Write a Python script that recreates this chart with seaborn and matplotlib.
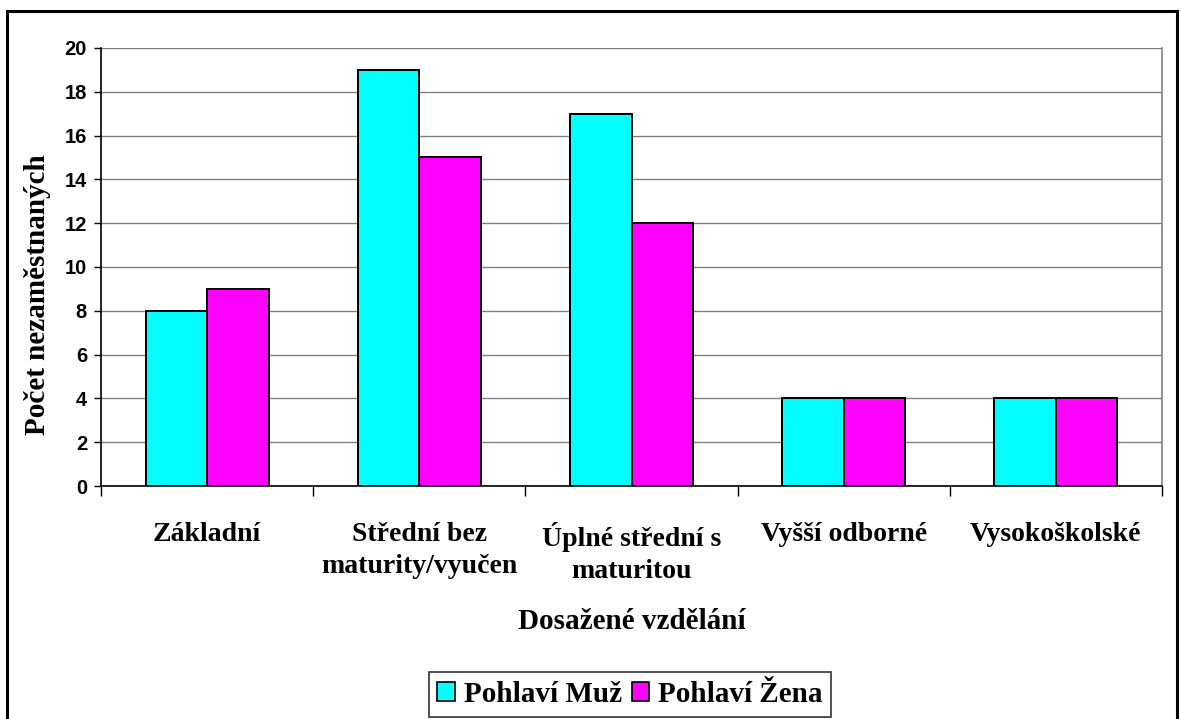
import numpy as np
import pandas as pd
import matplotlib
matplotlib.use("Agg")
import matplotlib.pyplot as plt
from matplotlib.patches import Rectangle
from matplotlib.ticker import FixedLocator
import seaborn as sns

# ─── Data ────────────────────────────────────────────────────────────────────
categories = ["Základní", "Střední bez\nmaturity/vyučen", "Úplné střední s\nmaturitou",
              "Vyšší odborné", "Vysokoškolské"]
muz = [8, 19, 17, 4, 4]
zena = [9, 15, 12, 4, 4]
series = ["Pohlaví Muž", "Pohlaví Žena"]
colors = ["#00FFFF", "#FF00FF"]

df = pd.DataFrame({
    "vzdelani": categories * 2,
    "pocet": muz + zena,
    "pohlavi": [series[0]] * len(categories) + [series[1]] * len(categories),
})

sns.set_style("white", rc={"text.color": "black", "axes.labelcolor": "black",
                           "xtick.color": "black", "ytick.color": "black"})
serif = ["Liberation Serif", "DejaVu Serif"]
sans = ["Liberation Sans", "DejaVu Sans"]

W, H = 1181, 719
fig = plt.figure(figsize=(W / 100, H / 100), dpi=100)
left, right, top, bottom = 101, 1162, 48, 486
ax = fig.add_axes([left / W, (H - bottom) / H, (right - left) / W, (bottom - top) / H])

sns.barplot(data=df, x="vzdelani", y="pocet", hue="pohlavi", palette=colors,
            saturation=1, width=0.58, edgecolor="black", linewidth=1.4, ax=ax, zorder=3)

ax.set_ylim(0, 20)
ax.set_xlim(-0.5, len(categories) - 0.5)
ax.set_yticks(np.arange(0, 21, 2))
ax.yaxis.grid(True, color="#808080", linewidth=1.0, zorder=0)
ax.xaxis.grid(False)

for lbl in ax.get_yticklabels():
    lbl.set_fontfamily(sans)
    lbl.set_fontweight("bold")
    lbl.set_fontsize(14.5)
ax.tick_params(axis="y", length=5, width=1, color="black", left=True, pad=5)

ax.set_xticks(range(len(categories)))
ax.set_xticklabels(categories, fontfamily=serif, fontweight="bold", fontsize=20,
                   linespacing=1.35, va="top")
ax.tick_params(axis="x", which="major", length=0, pad=26)
ax.xaxis.set_minor_locator(FixedLocator(np.arange(-0.5, len(categories), 1)))
ax.tick_params(axis="x", which="minor", length=7, width=1, color="black", bottom=True)

ax.set_xlabel("Dosažené vzdělání", fontfamily=serif, fontweight="bold", fontsize=21,
              va="baseline")
ax.xaxis.set_label_coords(0.5, (bottom - 629) / (bottom - top))
ax.set_ylabel("Počet nezaměstnaných", fontfamily=serif, fontweight="bold", fontsize=21,
              va="center")
ax.yaxis.set_label_coords((38 - left) / (right - left), (bottom - 295) / (bottom - top))

for side in ["left", "bottom"]:
    ax.spines[side].set_color("black")
    ax.spines[side].set_linewidth(1.2)
ax.spines["right"].set_color("#808080")
ax.spines["right"].set_linewidth(1.2)
ax.spines["top"].set_visible(False)

ax.get_legend().remove()
handles = [Rectangle((0, 0), 1, 1, facecolor=c, edgecolor="black", linewidth=1.2) for c in colors]
leg = fig.legend(handles, series, loc="center", bbox_to_anchor=(630 / W, 1 - 694.5 / H),
                 ncol=2, frameon=True, fancybox=False, handlelength=0.6, handleheight=0.6,
                 handletextpad=0.3, columnspacing=0.35, borderpad=0.3, borderaxespad=0,
                 prop={"family": serif, "weight": "bold", "size": 21})
leg.get_frame().set_edgecolor("black")
leg.get_frame().set_linewidth(1.2)

# outer chart frame (bottom edge lies below the picture)
fig.patches.append(Rectangle((7 / W, -10 / H), (1177 - 7) / W, (H + 10 - 11) / H,
                             transform=fig.transFigure, fill=False,
                             edgecolor="black", linewidth=2.2))

fig.savefig("out.png", dpi=100)
